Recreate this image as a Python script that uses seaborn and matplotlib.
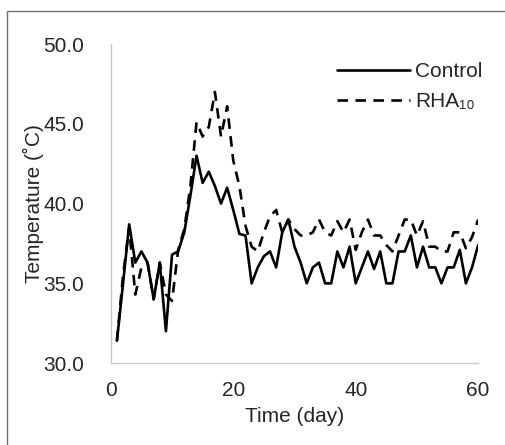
import numpy as np
import pandas as pd
import matplotlib
matplotlib.use('Agg')
import matplotlib.pyplot as plt
import seaborn as sns
from matplotlib.patches import Rectangle

# data
days = list(range(1, 61))
control = [31.4, 35.0, 38.7, 36.3, 37.0, 36.3, 34.0, 36.3, 32.0, 36.8,
           37.0, 38.2, 40.5, 43.0, 41.3, 42.0, 41.1, 40.0, 41.0, 39.6,
           38.1, 38.0, 35.0, 36.0, 36.7, 37.0, 36.0, 38.2, 39.0, 37.3,
           36.3, 35.0, 36.0, 36.3, 35.0, 35.0, 37.0, 36.0, 37.3, 35.0,
           36.0, 37.0, 35.9, 37.0, 35.0, 35.0, 37.0, 37.0, 38.0, 36.0,
           37.3, 36.0, 36.0, 35.0, 36.0, 36.0, 37.1, 35.0, 36.0, 37.4]
rha10 = [31.4, 35.5, 38.5, 34.3, 36.0, 36.3, 34.0, 36.3, 34.3, 33.9,
         37.1, 38.4, 41.1, 45.1, 44.2, 44.8, 47.0, 44.2, 46.1, 42.7,
         41.1, 38.6, 37.3, 37.0, 38.2, 39.2, 39.6, 38.2, 39.0, 38.4,
         38.0, 38.0, 38.2, 39.0, 38.2, 38.0, 38.9, 38.2, 39.0, 37.1,
         38.2, 39.0, 38.0, 38.0, 37.4, 37.0, 38.0, 39.0, 39.0, 38.0,
         38.9, 37.3, 37.3, 37.0, 37.0, 38.2, 38.2, 37.2, 37.9, 39.0]
yticks = [30, 35, 40, 45, 50]

sns.set_style('white')
plt.rcParams['font.family'] = ['Liberation Sans', 'DejaVu Sans']

fig = plt.figure(figsize=(5.06, 4.45), dpi=100)
ax = fig.add_axes([0.219, 0.184, 0.726, 0.717])

sns.lineplot(x=days, y=control, ax=ax, color='black', linewidth=1.9, label='Control')
sns.lineplot(x=days, y=rha10, ax=ax, color='black', linewidth=1.9,
             linestyle=(0, (4, 2.8)), label='RHA₁₀')

ax.set_xlim(0, 60)
ax.set_ylim(30, 50)
ax.set_xticks([0, 20, 40, 60])
ax.set_yticks(yticks)
ax.set_yticklabels([f'{v:.1f}' for v in yticks])
ax.tick_params(axis='y', labelsize=15, length=0, pad=19, colors='#262626')
ax.tick_params(axis='x', labelsize=15, length=0, pad=13, colors='#262626')
ax.set_xlabel('Time (day)', fontsize=15, color='#262626', labelpad=5)
ax.set_ylabel('Temperature (˚C)', fontsize=15, color='#262626', labelpad=0)

for s in ['top', 'right']:
    ax.spines[s].set_visible(False)
for s in ['left', 'bottom']:
    ax.spines[s].set_color('#c8c8c8')
    ax.spines[s].set_linewidth(1.0)

leg = ax.legend(loc='upper right', frameon=False, fontsize=15, handlelength=3.5,
                handletextpad=0.25, borderaxespad=0.0, labelspacing=0.55,
                bbox_to_anchor=(1.035, 0.97))

# outer chart border
fig.patches.append(Rectangle((7 / 506, -0.05), 1.0, 1 - 11 / 445 + 0.05,
                             transform=fig.transFigure, fill=False,
                             edgecolor='#6e6e6e', linewidth=1.0))

fig.savefig('out.png', dpi=100)
